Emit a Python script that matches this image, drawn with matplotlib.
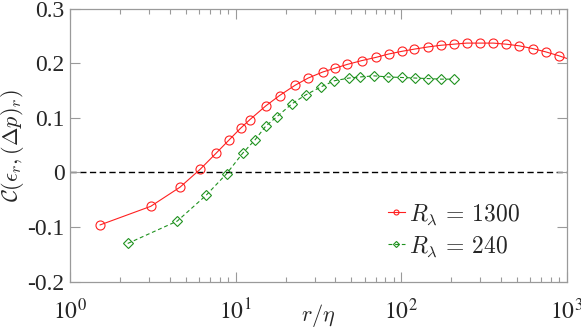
import numpy as np
import matplotlib
matplotlib.use("Agg")
import matplotlib.pyplot as plt
from matplotlib.ticker import FixedLocator, FixedFormatter, LogLocator, NullFormatter

# data
r_1300 = [1.52, 3.07, 4.61, 6.11, 7.6, 9.15, 10.7, 12.2, 15.2, 18.4, 22.9, 27.4,
          33.5, 39.7, 47.2, 57.8, 70.6, 83.8, 101, 120, 145, 173, 207, 248, 298,
          359, 430, 515, 620, 743, 889, 1065]
c_1300 = [-0.096, -0.062, -0.027, 0.006, 0.035, 0.060, 0.081, 0.097, 0.122, 0.141,
          0.160, 0.173, 0.184, 0.191, 0.198, 0.205, 0.211, 0.217, 0.222, 0.226,
          0.230, 0.233, 0.235, 0.237, 0.237, 0.237, 0.235, 0.232, 0.227, 0.221,
          0.214, 0.206]

r_240 = [2.23, 4.44, 6.62, 8.83, 11.0, 13.1, 15.2, 17.7, 21.9, 26.4, 32.8, 39.4,
         48.3, 56.5, 68.6, 83.0, 101, 121, 145, 173, 207]
c_240 = [-0.130, -0.089, -0.042, -0.002, 0.035, 0.060, 0.085, 0.102, 0.126, 0.142,
         0.157, 0.168, 0.173, 0.175, 0.177, 0.175, 0.174, 0.173, 0.172, 0.171, 0.171]

y_ticks = [-0.2, -0.1, 0, 0.1, 0.2, 0.3]
y_labels = ["-0.2", "-0.1", "0", "0.1", "0.2", "0.3"]
x_ticks = [1, 10, 100, 1000]
x_labels = [r"$10^{0}$", r"$10^{1}$", r"$10^{2}$", r"$10^{3}$"]

red = "#ff2020"
green = "#1f921f"
grey = "#9a9a9a"
txt = "#262626"

plt.rcParams["font.family"] = ["Liberation Serif", "DejaVu Serif"]
plt.rcParams["mathtext.fontset"] = "cm"

fig = plt.figure(figsize=(5.81, 3.31), dpi=100)
ax = fig.add_axes([0.1205, 0.149, 0.8554, 0.8247])

ax.axhline(0, color="k", lw=1.0, dashes=(4.5, 2.5), zorder=1)
ax.plot(r_1300, c_1300, "-o", color=red, lw=0.8, ms=6.5, mfc="none", mew=0.8,
        label=r"$R_\lambda\,=\,1300$")
ax.plot(r_240, c_240, "--D", color=green, lw=0.8, ms=5.6, mfc="none", mew=0.8,
        dashes=(3.5, 2.5), label=r"$R_\lambda\,=\,240$")

ax.set_xscale("log")
ax.set_xlim(1, 1000)
ax.set_ylim(-0.2, 0.3)

ax.yaxis.set_major_locator(FixedLocator(y_ticks))
ax.yaxis.set_major_formatter(FixedFormatter(y_labels))
ax.xaxis.set_major_locator(FixedLocator(x_ticks))
ax.xaxis.set_major_formatter(FixedFormatter(x_labels))
ax.xaxis.set_minor_locator(LogLocator(base=10, subs=np.arange(2, 10)))
ax.xaxis.set_minor_formatter(NullFormatter())

for s in ax.spines.values():
    s.set_color(grey)
    s.set_linewidth(0.9)
ax.tick_params(which="both", direction="in", top=True, right=True, color=grey,
               labelcolor=txt, labelsize=17)
ax.tick_params(which="major", length=7, width=0.8)
ax.tick_params(which="minor", length=3.5, width=0.8)
ax.tick_params(axis="x", pad=12)
ax.tick_params(axis="y", pad=4)
for lab in ax.get_xticklabels():
    lab.set_math_fontfamily("stix")

ax.set_xlabel(r"$r/\eta$", fontsize=16, color=txt)
ax.xaxis.set_label_coords(0.5, -0.076)
ax.set_ylabel(r"$\mathcal{C}(\epsilon_r,(\Delta p)_r)$", fontsize=16, color=txt,
              labelpad=1)

leg = ax.legend(loc="lower right", bbox_to_anchor=(0.925, 0.05), frameon=False,
                fontsize=17, handlelength=0.7, handletextpad=0.2, markerscale=0.55,
                labelspacing=0.3, borderaxespad=0)
for t in leg.get_texts():
    t.set_color(txt)

fig.savefig("out.png", dpi=100)
